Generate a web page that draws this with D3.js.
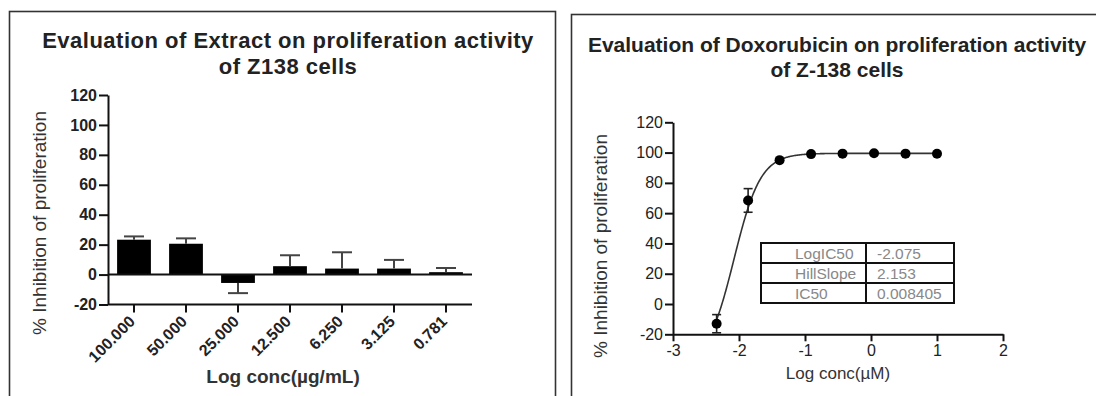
<!DOCTYPE html>
<html>
<head>
<meta charset="utf-8">
<script src="https://cdn.jsdelivr.net/npm/d3@7"></script>
<style>
  html, body { margin: 0; padding: 0; background: #fff; }
  svg { display: block; font-family: "Liberation Sans", Arial, sans-serif; }
</style>
</head>
<body>
<svg id="chart" width="1096" height="396"></svg>
<script>
// ---------- Data: left panel (Extract) ----------
const extractCategories = ["100.000", "50.000", "25.000", "12.500", "6.250", "3.125", "0.781"];
const extractValues = [23.3, 20.6, -5.6, 5.6, 4.0, 4.0, 1.6];
const extractErrors = [2.2, 3.6, 6.8, 7.3, 10.9, 5.8, 2.8];
const yTicks = [-20, 0, 20, 40, 60, 80, 100, 120];

// ---------- Data: right panel (Doxorubicin) ----------
const doxLogConc = [-2.339, -1.862, -1.385, -0.908, -0.431, 0.046, 0.523, 1.0];
const doxValues = [-13.0, 68.4, 95.0, 99.0, 99.3, 99.6, 99.3, 99.2];
const doxErrors = [6.0, 7.8, 1.0, 0.6, 0.5, 0.5, 0.5, 0.5];
const xTicksDox = [-3, -2, -1, 0, 1, 2];
const fitNames = ["LogIC50", "HillSlope", "IC50"];
const fitValues = ["-2.075", "2.153", "0.008405"];
const fitParams = [-2.075, 2.153, -40, 99.5]; // logIC50, hill, bottom, top

const svg = d3.select("#chart");
const ink = "#222";
const hyphenFmt = d => (d < 0 ? "-" + Math.abs(d) : String(d));

// ---------- Panel frames ----------
svg.append("rect").attr("x", 9.5).attr("y", 11.5).attr("width", 546).attr("height", 400)
  .attr("fill", "none").attr("stroke", "#333").attr("stroke-width", 1.6);
svg.append("rect").attr("x", 571.5).attr("y", 14.5).attr("width", 560).attr("height", 400)
  .attr("fill", "none").attr("stroke", "#333").attr("stroke-width", 1.6);

// ---------- LEFT PANEL ----------
{
  const g = svg.append("g");
  const x = d3.scaleBand().domain(extractCategories).range([108, 472]).paddingInner(0.35).paddingOuter(0.175);
  const y = d3.scaleLinear().domain([-20, 120]).range([304.5, 95]);

  // title
  g.append("text").attr("x", 288).attr("y", 48).attr("text-anchor", "middle")
    .attr("font-size", 22).attr("letter-spacing", 0.5).attr("font-weight", "bold").attr("fill", ink)
    .text("Evaluation of Extract on proliferation activity");
  g.append("text").attr("x", 288).attr("y", 74).attr("text-anchor", "middle")
    .attr("font-size", 22).attr("letter-spacing", 0.5).attr("font-weight", "bold").attr("fill", ink)
    .text("of Z138 cells");

  // bars
  g.selectAll("rect.bar").data(extractValues).join("rect").attr("class", "bar")
    .attr("x", (d, i) => x(extractCategories[i]))
    .attr("width", x.bandwidth())
    .attr("y", d => y(Math.max(0, d)))
    .attr("height", d => Math.abs(y(d) - y(0)))
    .attr("fill", "#000");

  // error bars (one-sided, away from zero)
  const eb = g.append("g").attr("stroke", "#444").attr("stroke-width", 2);
  extractValues.forEach((v, i) => {
    const cx = x(extractCategories[i]) + x.bandwidth() / 2;
    const tip = v >= 0 ? v + extractErrors[i] : v - extractErrors[i];
    eb.append("line").attr("x1", cx).attr("x2", cx).attr("y1", y(v)).attr("y2", y(tip));
    eb.append("line").attr("x1", cx - 10).attr("x2", cx + 10).attr("y1", y(tip)).attr("y2", y(tip));
  });

  // zero line
  g.append("line").attr("x1", 108).attr("x2", 472).attr("y1", y(0)).attr("y2", y(0))
    .attr("stroke", "#111").attr("stroke-width", 2);

  // y axis
  const ya = g.append("g").attr("transform", "translate(108,0)")
    .call(d3.axisLeft(y).tickValues(yTicks).tickFormat(hyphenFmt).tickSize(9).tickPadding(2).tickSizeOuter(0));
  ya.select(".domain").attr("stroke", "#111").attr("stroke-width", 2);
  ya.selectAll(".tick line").attr("stroke", "#111").attr("stroke-width", 2);
  ya.selectAll(".tick text").attr("font-size", 16).attr("font-weight", "bold").attr("fill", ink)
    .attr("font-family", "Liberation Sans, Arial, sans-serif");

  // x axis (at -20)
  const xa = g.append("g").attr("transform", `translate(0,${y(-20)})`)
    .call(d3.axisBottom(x).tickSize(8).tickSizeOuter(0));
  xa.select(".domain").attr("stroke", "#111").attr("stroke-width", 2).attr("d", `M108,0H472`);
  xa.selectAll(".tick line").attr("stroke", "#111").attr("stroke-width", 2);
  xa.selectAll(".tick text").attr("font-size", 16).attr("font-weight", "bold").attr("fill", ink)
    .attr("font-family", "Liberation Sans, Arial, sans-serif")
    .attr("text-anchor", "end").attr("dy", null).attr("y", null)
    .attr("transform", "translate(2,18) rotate(-45)");

  // axis titles
  g.append("text").attr("x", 283).attr("y", 383).attr("text-anchor", "middle")
    .attr("font-size", 19).attr("font-weight", "bold").attr("fill", "#333")
    .text("Log conc(µg/mL)");
  g.append("text").attr("transform", "translate(46,223) rotate(-90)").attr("text-anchor", "middle")
    .attr("font-size", 19).attr("fill", "#333")
    .text("% Inhibition of proliferation");
}

// ---------- RIGHT PANEL ----------
{
  const g = svg.append("g");
  const x = d3.scaleLinear().domain([-3, 2]).range([673, 1003]);
  const y = d3.scaleLinear().domain([-20, 120]).range([334.3, 122.3]);

  g.append("text").attr("x", 837).attr("y", 52).attr("text-anchor", "middle")
    .attr("font-size", 21).attr("font-weight", "bold").attr("fill", ink)
    .text("Evaluation of Doxorubicin on proliferation activity");
  g.append("text").attr("x", 837).attr("y", 77).attr("text-anchor", "middle")
    .attr("font-size", 21).attr("font-weight", "bold").attr("fill", ink)
    .text("of Z-138 cells");

  // fit curve
  const [logIC50, hill, bottom, top] = fitParams;
  const curveX = d3.range(doxLogConc[0], doxLogConc[doxLogConc.length - 1] + 0.001, 0.01);
  const fit = xv => bottom + (top - bottom) / (1 + Math.pow(10, (logIC50 - xv) * hill));
  g.append("path").datum(curveX)
    .attr("d", d3.line().x(d => x(d)).y(d => y(fit(d))))
    .attr("fill", "none").attr("stroke", "#333").attr("stroke-width", 1.6);

  // error bars
  const eb = g.append("g").attr("stroke", "#222").attr("stroke-width", 1.6);
  doxValues.forEach((v, i) => {
    const cx = x(doxLogConc[i]);
    const e = doxErrors[i];
    if (e < 2) return;
    eb.append("line").attr("x1", cx).attr("x2", cx).attr("y1", y(v - e)).attr("y2", y(v + e));
    eb.append("line").attr("x1", cx - 4.5).attr("x2", cx + 4.5).attr("y1", y(v + e)).attr("y2", y(v + e));
    eb.append("line").attr("x1", cx - 4.5).attr("x2", cx + 4.5).attr("y1", y(v - e)).attr("y2", y(v - e));
  });

  // points
  g.selectAll("circle.pt").data(doxValues).join("circle").attr("class", "pt")
    .attr("cx", (d, i) => x(doxLogConc[i])).attr("cy", d => y(d)).attr("r", 5).attr("fill", "#000");

  // axes
  const ya = g.append("g").attr("transform", "translate(673,0)")
    .call(d3.axisLeft(y).tickValues(yTicks).tickFormat(hyphenFmt).tickSize(8).tickPadding(2).tickSizeOuter(0));
  ya.select(".domain").attr("stroke", "#111").attr("stroke-width", 2);
  ya.selectAll(".tick line").attr("stroke", "#111").attr("stroke-width", 2);
  ya.selectAll(".tick text").attr("font-size", 16).attr("fill", ink)
    .attr("font-family", "Liberation Sans, Arial, sans-serif");

  const xa = g.append("g").attr("transform", `translate(0,${y(-20)})`)
    .call(d3.axisBottom(x).tickValues(xTicksDox).tickFormat(hyphenFmt).tickSize(7).tickPadding(3).tickSizeOuter(0));
  xa.select(".domain").attr("stroke", "#111").attr("stroke-width", 2);
  xa.selectAll(".tick line").attr("stroke", "#111").attr("stroke-width", 2);
  xa.selectAll(".tick text").attr("font-size", 16).attr("fill", ink)
    .attr("font-family", "Liberation Sans, Arial, sans-serif");

  g.append("text").attr("x", 838).attr("y", 379).attr("text-anchor", "middle")
    .attr("font-size", 17).attr("fill", "#333").text("Log conc(µM)");
  g.append("text").attr("transform", "translate(607,246) rotate(-90)").attr("text-anchor", "middle")
    .attr("font-size", 19).attr("fill", "#333")
    .text("% Inhibition of proliferation");

  // results table
  const tx = 761, ty = 243, colW = [105, 88], rowH = 20;
  const tg = g.append("g");
  fitNames.forEach((n, i) => {
    tg.append("text").attr("x", tx + 34).attr("y", ty + rowH * i + 15.5)
      .attr("font-size", 15.5).attr("fill", "#888").text(n);
    tg.append("text").attr("x", tx + colW[0] + 11).attr("y", ty + rowH * i + 15.5)
      .attr("font-size", 15.5).attr("fill", "#888").text(fitValues[i]);
  });
  tg.append("rect").attr("x", tx).attr("y", ty).attr("width", colW[0] + colW[1]).attr("height", rowH * fitNames.length)
    .attr("fill", "none").attr("stroke", "#111").attr("stroke-width", 2);
  tg.append("line").attr("x1", tx + colW[0]).attr("x2", tx + colW[0]).attr("y1", ty).attr("y2", ty + rowH * 3)
    .attr("stroke", "#111").attr("stroke-width", 2);
  [1, 2].forEach(r => tg.append("line").attr("x1", tx).attr("x2", tx + colW[0] + colW[1])
    .attr("y1", ty + rowH * r).attr("y2", ty + rowH * r).attr("stroke", "#111").attr("stroke-width", 2));
}
</script>
</body>
</html>
